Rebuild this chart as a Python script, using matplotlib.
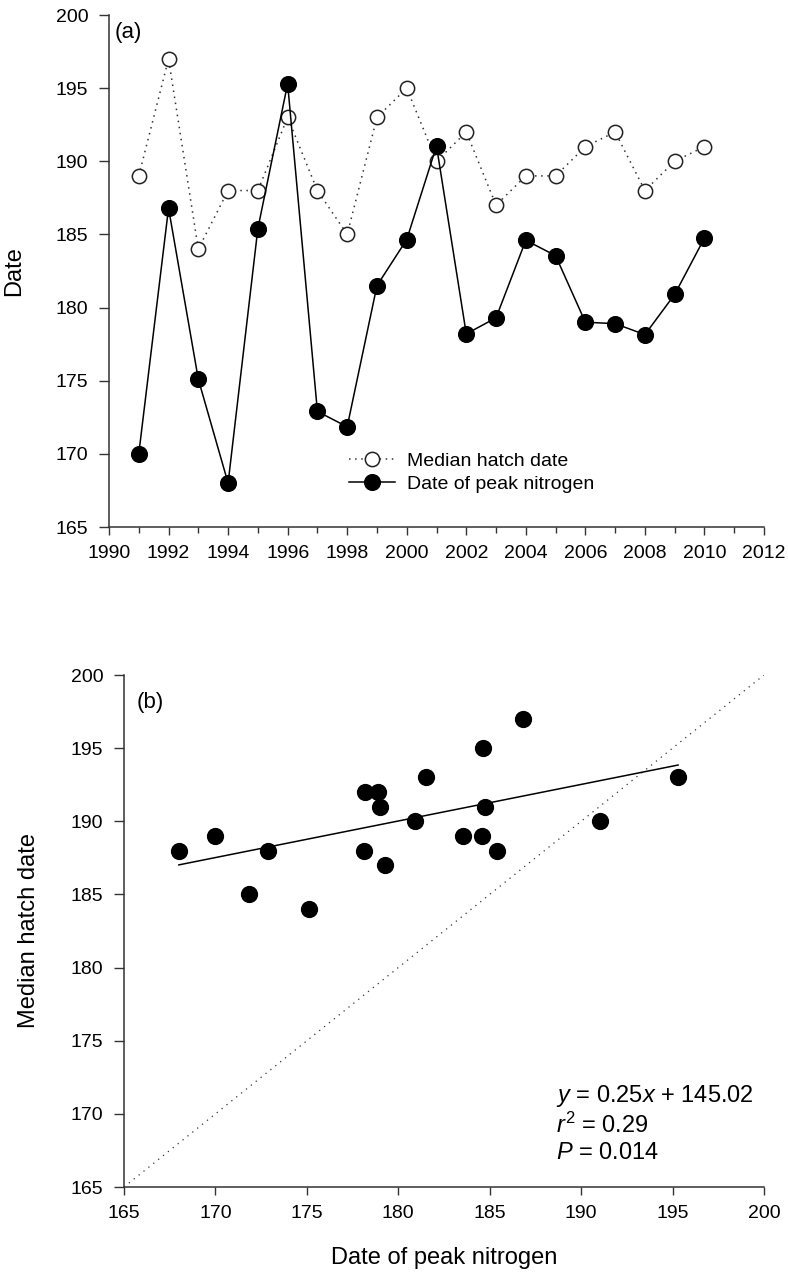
import matplotlib
matplotlib.use("Agg")
import matplotlib.pyplot as plt
import numpy as np
from matplotlib.ticker import MultipleLocator

plt.rcParams['font.family'] = ['Liberation Sans', 'DejaVu Sans']
plt.rcParams['mathtext.fontset'] = 'custom'
plt.rcParams['mathtext.rm'] = 'Liberation Sans'
plt.rcParams['mathtext.it'] = 'Liberation Sans:italic'

# ---- data ----
years = [1991, 1992, 1993, 1994, 1995, 1996, 1997, 1998, 1999, 2000,
         2001, 2002, 2003, 2004, 2005, 2006, 2007, 2008, 2009, 2010]
median_hatch = [189, 197, 184, 188, 188, 193, 188, 185, 193, 195,
                190, 192, 187, 189, 189, 191, 192, 188, 190, 191]
peak_nitrogen = [170.0, 186.8, 175.1, 168.0, 185.4, 195.3, 172.9, 171.85, 181.5, 184.65,
                 191.05, 178.2, 179.3, 184.6, 183.55, 179.0, 178.9, 178.15, 180.9, 184.75]
slope = 0.25
intercept = 145.02
r2_text = "0.29"
p_text = "0.014"
label_a = ["Median hatch date", "Date of peak nitrogen"]

AX_COLOR = '#333333'

fig = plt.figure(figsize=(7.88, 12.74), dpi=100)
ax1 = fig.add_axes([109/788, 1-527/1274, (764-109)/788, 512/1274])
ax2 = fig.add_axes([124/788, 1-1187/1274, (764-124)/788, 512/1274])

def style(ax):
    for s in ['top', 'right']:
        ax.spines[s].set_visible(False)
    for s in ['left', 'bottom']:
        ax.spines[s].set_color(AX_COLOR)
        ax.spines[s].set_linewidth(1.1)
    ax.tick_params(axis='both', which='major', direction='out', length=6,
                   width=1.0, color=AX_COLOR, labelsize=14, labelcolor='black')
    ax.tick_params(axis='y', which='major', length=7, pad=8)
    ax.tick_params(axis='x', which='major', pad=7)
    ax.tick_params(axis='x', which='minor', direction='out', length=4,
                   width=1.0, color=AX_COLOR)

# ---- panel (a) ----
style(ax1)
ax1.plot(years, median_hatch, linestyle=(0, (1, 3)), color='#333333', lw=1.1,
         marker='o', markersize=10.3, markerfacecolor='white',
         markeredgecolor='#222222', markeredgewidth=1.1, label=label_a[0], zorder=2)
ax1.plot(years, peak_nitrogen, linestyle='-', color='black', lw=1.1,
         marker='o', markersize=11.3, markerfacecolor='black',
         markeredgecolor='black', label=label_a[1], zorder=3)
ax1.set_xlim(1990, 2012)
ax1.set_ylim(165, 200)
ax1.xaxis.set_major_locator(MultipleLocator(2))
ax1.xaxis.set_minor_locator(MultipleLocator(1))
ax1.yaxis.set_major_locator(MultipleLocator(5))
ax1.set_ylabel("Date", fontsize=17)
ax1.yaxis.set_label_coords(-0.128, 0.5)
ax1.text(0.009, 0.965, "(a)", transform=ax1.transAxes, fontsize=16,
         ha='left', va='center')
leg = ax1.legend(loc='center left', bbox_to_anchor=(0.366, 0.106), frameon=False,
                 fontsize=14, handlelength=2.4, handletextpad=0.6,
                 labelspacing=0.3, borderpad=0, borderaxespad=0)

# ---- panel (b) ----
style(ax2)
ax2.plot([165, 200], [165, 200], linestyle=(0, (1, 4)), color='#333333', lw=0.9, zorder=1)
xfit = np.array([min(peak_nitrogen), max(peak_nitrogen)])
ax2.plot(xfit, slope * xfit + intercept, color='black', lw=1.1, zorder=2)
ax2.scatter(peak_nitrogen, median_hatch, s=130, color='black', zorder=3)
ax2.set_xlim(165, 200)
ax2.set_ylim(165, 200)
ax2.xaxis.set_major_locator(MultipleLocator(5))
ax2.yaxis.set_major_locator(MultipleLocator(5))
ax2.set_ylabel("Median hatch date", fontsize=17)
ax2.yaxis.set_label_coords(-0.131, 0.5)
ax2.set_xlabel("Date of peak nitrogen", fontsize=17, labelpad=18)
ax2.text(0.02, 0.947, "(b)", transform=ax2.transAxes, fontsize=16,
         ha='left', va='center')
ax2.text(188.6, 171.2, r"$y$ = %.2f$x$ + %.2f" % (slope, intercept), fontsize=17,
         ha='left', va='center')
ax2.text(188.6, 169.25, r"$r^2$ = " + r2_text, fontsize=17, ha='left', va='center')
ax2.text(188.6, 167.3, r"$P$ = " + p_text, fontsize=17, ha='left', va='center')

fig.savefig("out.png", dpi=100)
